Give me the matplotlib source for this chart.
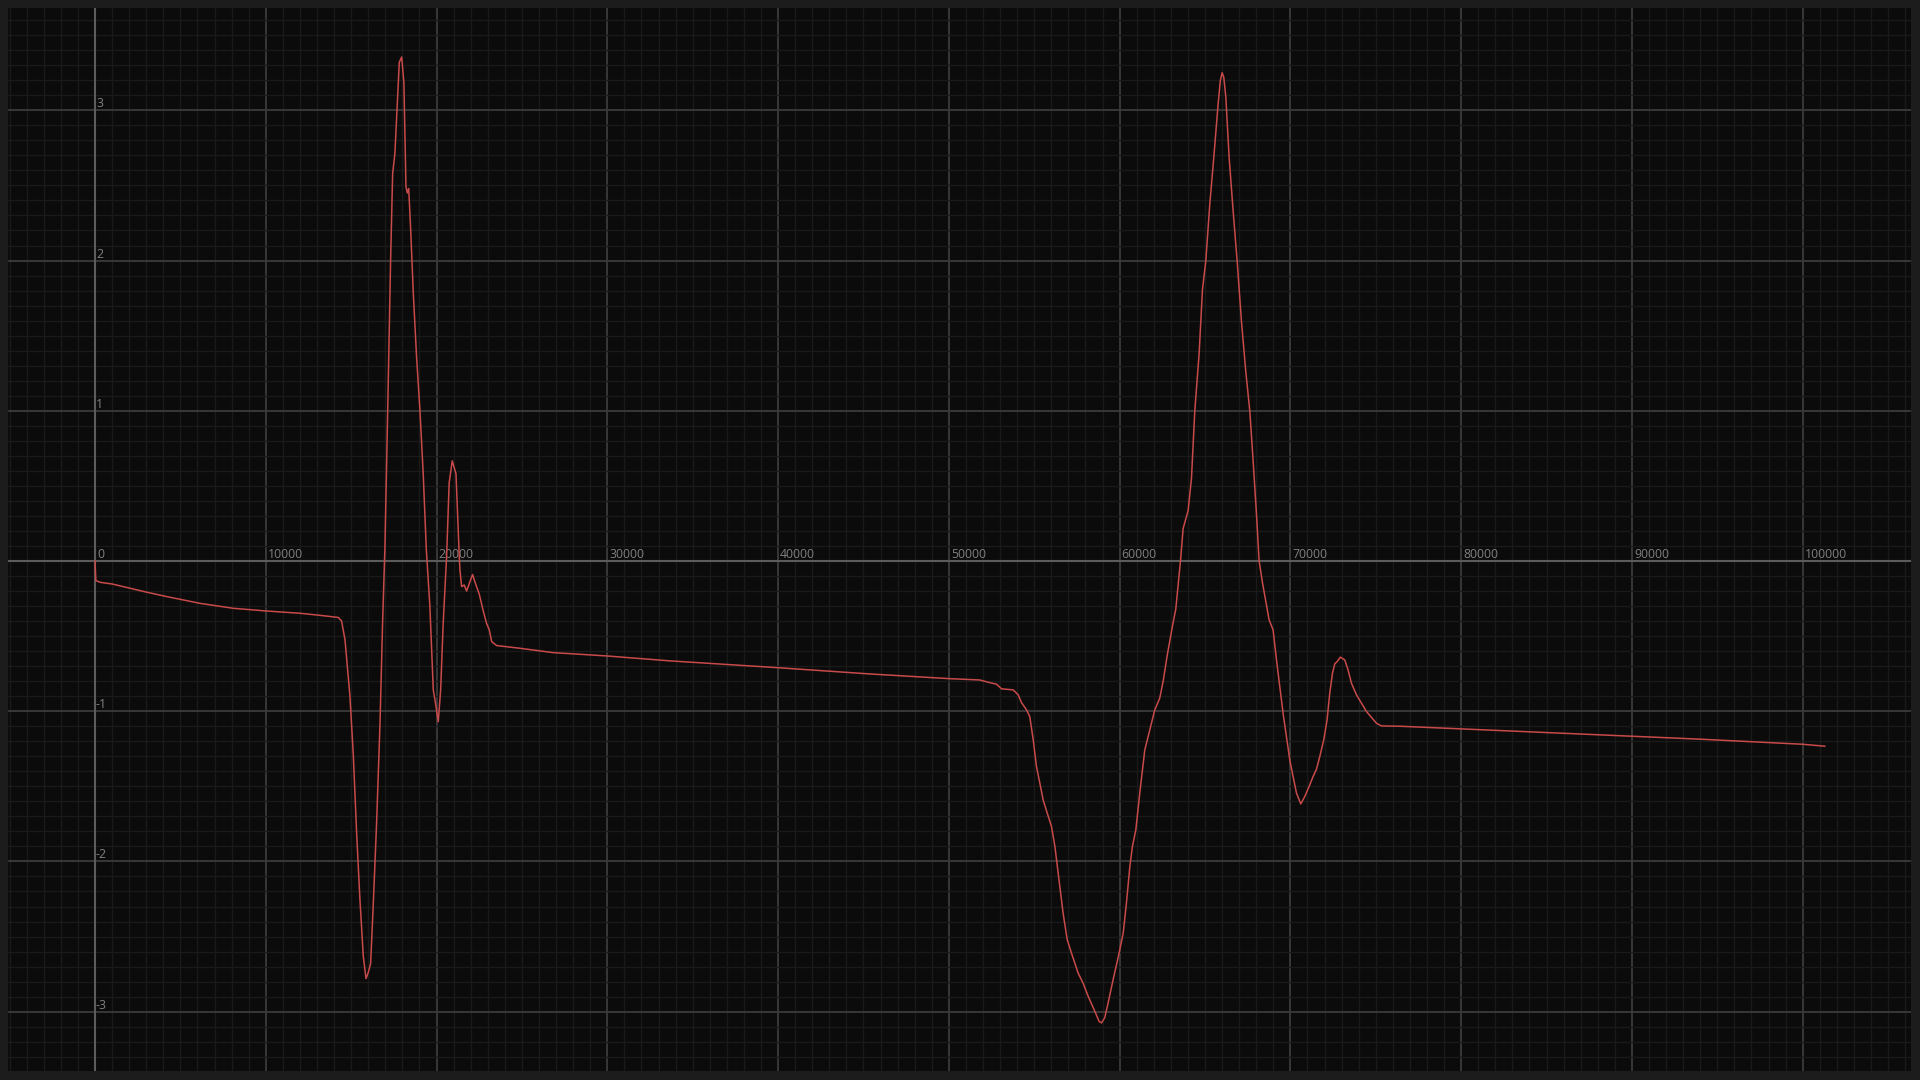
import matplotlib.pyplot as plt
from matplotlib.ticker import MultipleLocator

# sample positions and signal values
xs = [0, 50, 300, 1000, 2000, 3000, 4200, 6150, 8100, 10050, 12000, 13200,
      14250, 14440, 14640, 14930, 15130, 15320, 15515, 15710, 15870, 16000,
      16140, 16290, 16490, 16690, 16840, 16980, 17140, 17310, 17430, 17560,
      17820, 17960, 18090, 18210, 18290, 18370, 18480, 18640, 18830, 19030,
      19220, 19400, 19610, 19810, 19910, 20100, 20240, 20390, 20590, 20740,
      20920, 21140, 21330, 21370, 21470, 21620, 21760, 22110, 22250, 22500,
      22730, 22930, 23090, 23230, 23520, 24880, 26830, 29960, 33670, 39950,
      45380, 50000, 51810, 52300, 52790, 53085, 53770, 54060, 54255, 54550,
      54740, 54940, 55130, 55330, 55520, 55760, 56010, 56210, 56400, 56690,
      56930, 57180, 57570, 57860, 58160, 58550, 58800, 58940, 59130, 59330,
      59620, 59970, 60210, 60400, 60600, 60750, 60950, 61180, 61475, 61770,
      62060, 62350, 62550, 62800, 63100, 63290, 63565, 63720, 64010, 64207,
      64403, 64656, 64852, 65047, 65281, 65515, 65769, 65900, 66003, 66100,
      66218, 66413, 66647, 66882, 67136, 67388, 67623, 67818, 68015, 68167,
      68366, 68754, 68988, 69186, 69379, 69573, 69772, 69965, 70158, 70357,
      70609, 70843, 71136, 71329, 71528, 71721, 71955, 72148, 72306, 72464,
      72600, 72734, 72933, 73185, 73378, 73577, 73870, 74163, 74455, 74841,
      75040, 75333, 76405, 87640, 93970, 100000, 101290]
ys = [0.0, -0.13, -0.142, -0.153, -0.18, -0.207, -0.237, -0.282, -0.315, -0.333, -0.348, -0.362,
      -0.376, -0.40, -0.525, -0.90, -1.30, -1.81, -2.255, -2.63, -2.78, -2.74,
      -2.68, -2.30, -1.745, -1.08, -0.415, 0.10, 1.0, 2.0, 2.58, 2.71,
      3.32, 3.355, 3.18, 2.49, 2.45, 2.48, 2.22, 1.78, 1.36, 1.0,
      0.58, 0.08, -0.30, -0.86, -0.925, -1.07, -0.86, -0.415, 0.03, 0.52,
      0.667, 0.58, 0.03, -0.06, -0.17, -0.16, -0.20, -0.09, -0.14, -0.22,
      -0.33, -0.415, -0.459, -0.537, -0.563, -0.581, -0.61, -0.632, -0.665, -0.71,
      -0.752, -0.783, -0.792, -0.807, -0.820, -0.851, -0.858, -0.891, -0.943, -0.991,
      -1.036, -1.19, -1.368, -1.479, -1.59, -1.678, -1.767, -1.90, -2.078, -2.344,
      -2.52, -2.61, -2.743, -2.81, -2.898, -2.998, -3.065, -3.075, -3.04, -2.94,
      -2.787, -2.61, -2.477, -2.277, -2.033, -1.90, -1.79, -1.545, -1.257, -1.124,
      -0.991, -0.913, -0.80, -0.62, -0.43, -0.32, 0.002, 0.216, 0.335, 0.548,
      1.0, 1.38, 1.807, 1.998, 2.377, 2.687, 3.043, 3.20, 3.25, 3.22,
      3.09, 2.687, 2.33, 1.998, 1.594, 1.261, 1.0, 0.667, 0.311, 0.002,
      -0.145, -0.392, -0.459, -0.659, -0.836, -1.014, -1.169, -1.324, -1.435, -1.545,
      -1.617, -1.568, -1.49, -1.435, -1.386, -1.302, -1.19, -1.058, -0.88, -0.747,
      -0.685, -0.67, -0.64, -0.659, -0.725, -0.814, -0.891, -0.947, -1.002, -1.053,
      -1.08, -1.098, -1.1, -1.155, -1.186, -1.22, -1.233]

x_ticks = [0, 10000, 20000, 30000, 40000, 50000, 60000, 70000, 80000, 90000, 100000]
y_ticks = [3, 2, 1, -1, -2, -3]

fig = plt.figure(figsize=(19.2, 10.8), dpi=100, facecolor='#1c1c1c')
ax = fig.add_axes([0.00432, 0.00861, 0.99099, 0.9837], facecolor='#0b0b0b')

ax.set_xlim(-5077, 106342)
ax.set_ylim(-3.393, 3.679)

ax.xaxis.set_major_locator(MultipleLocator(10000))
ax.xaxis.set_minor_locator(MultipleLocator(1000))
ax.yaxis.set_major_locator(MultipleLocator(1))
ax.yaxis.set_minor_locator(MultipleLocator(0.1))
ax.grid(which='minor', color='#1a1a1a', linewidth=1.0)
ax.grid(which='major', color='#3b3b3b', linewidth=1.3)
ax.set_axisbelow(True)
ax.axhline(0, color='#5c5c5c', linewidth=1.5, zorder=1)
ax.axvline(0, color='#5c5c5c', linewidth=1.5, zorder=1)

ax.tick_params(which='both', length=0, labelbottom=False, labelleft=False)
for s in ax.spines.values():
    s.set_visible(False)

for t in x_ticks:
    ax.annotate(str(t), (t, 0), xytext=(2, 3), textcoords='offset pixels',
                ha='left', va='baseline', fontsize=8.8, color='#808080',
                family='Open Sans')
for t in y_ticks:
    ax.annotate(str(t), (0, t), xytext=(1, 3), textcoords='offset pixels',
                ha='left', va='baseline', fontsize=8.8, color='#808080',
                family='Open Sans')

ax.plot(xs, ys, color='#c94a4a', linewidth=1.1, zorder=3)

fig.savefig('out.png', dpi=100, facecolor=fig.get_facecolor())
